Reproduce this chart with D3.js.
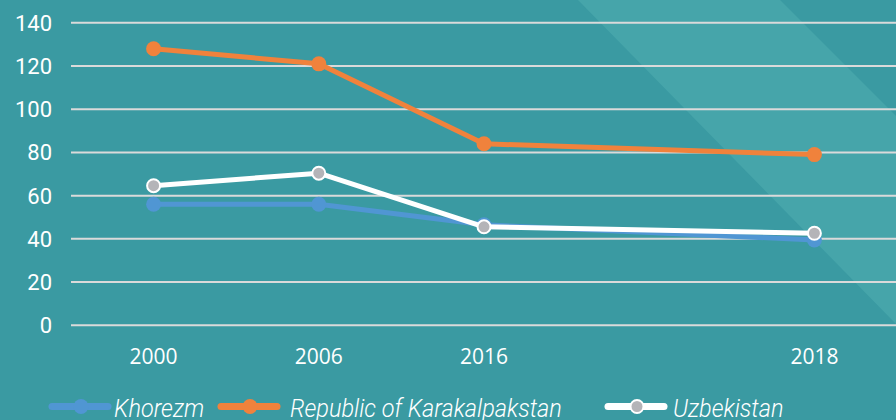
<!DOCTYPE html>
<html>
<head>
<meta charset="utf-8">
<script src="https://cdn.jsdelivr.net/npm/d3@7"></script>
<style>
    html, body { margin: 0; padding: 0; background: #3a9aa2; }
    svg { display: block; }
    .ytick { font-family: Roboto, sans-serif; font-size: 22px; fill: #ffffff; }
    .xtick { font-family: "Open Sans", sans-serif; font-size: 21px; fill: #ffffff; }
    .legend text { font-family: Roboto, sans-serif; font-weight: 300; font-style: italic; font-size: 25px; fill: #ffffff; }
</style>
</head>
<body>
<div id="chart"></div>
<script>
var WIDTH = 896;
var HEIGHT = 420;

// one empty slot between 2016 and 2018, as in the original
var years = ['2000', '2006', '2016', '', '2018'];
var yTicks = [0, 20, 40, 60, 80, 100, 120, 140];

var khorezm = [56, 56, 46.5, null, 39.5];
var karakalpakstan = [128, 121, 84, null, 79];
var uzbekistan = [64.6, 70.4, 45.6, null, 42.6];

var series = [
    {name: 'Khorezm', values: khorezm, color: '#5096d3', dot: '#5096d3', ring: null},
    {name: 'Republic of Karakalpakstan', values: karakalpakstan, color: '#f0823c', dot: '#f0823c', ring: null},
    {name: 'Uzbekistan', values: uzbekistan, color: '#ffffff', dot: '#b4b4b8', ring: '#ffffff'},
];

var svg = d3.select('#chart').append('svg')
    .attr('width', WIDTH)
    .attr('height', HEIGHT);

svg.append('rect')
    .attr('width', WIDTH)
    .attr('height', HEIGHT)
    .attr('fill', '#3a9aa2');

// lighter diagonal band of the background
svg.append('polygon')
    .attr('points', '578,0 780,0 896,116 896,324')
    .attr('fill', '#46a5aa');

var x = d3.scaleBand().domain(years).range([71, 897]);
var y = d3.scaleLinear().domain([0, 140]).range([325.3, 22.8]);

svg.append('g')
    .selectAll('line')
    .data(yTicks)
    .enter()
    .append('line')
    .attr('x1', 71)
    .attr('x2', WIDTH)
    .attr('y1', d => y(d))
    .attr('y2', d => y(d))
    .attr('stroke', '#dadada')
    .attr('stroke-width', 2);

svg.append('g')
    .selectAll('text')
    .data(yTicks)
    .enter()
    .append('text')
    .attr('class', 'ytick')
    .attr('x', 52)
    .attr('y', d => y(d) + 8)
    .attr('text-anchor', 'end')
    .text(d => d);

svg.append('g')
    .selectAll('text')
    .data(years.filter(d => d !== ''))
    .enter()
    .append('text')
    .attr('class', 'xtick')
    .attr('x', d => x(d) + x.bandwidth() / 2)
    .attr('y', 364)
    .attr('text-anchor', 'middle')
    .text(d => d);

var line = d3.line()
    .x(d => x(d.year) + x.bandwidth() / 2)
    .y(d => y(d.value));

series.forEach(s => {
    var pts = years
        .map((year, i) => ({year: year, value: s.values[i]}))
        .filter(d => d.value !== null);
    var g = svg.append('g');
    g.append('path')
        .datum(pts)
        .attr('d', line)
        .attr('fill', 'none')
        .attr('stroke', s.color)
        .attr('stroke-width', 5)
        .attr('stroke-linejoin', 'round');
    g.selectAll('circle')
        .data(pts)
        .enter()
        .append('circle')
        .attr('cx', d => x(d.year) + x.bandwidth() / 2)
        .attr('cy', d => y(d.value))
        .attr('r', s.ring ? 6.5 : 7.5)
        .attr('fill', s.dot)
        .attr('stroke', s.ring || 'none')
        .attr('stroke-width', s.ring ? 2 : 0);
});

var legendX = [52, 221, 608];
var legendTextX = [62, 69, 65];
var legend = svg.append('g').attr('class', 'legend')
    .selectAll('g')
    .data(series)
    .enter()
    .append('g')
    .attr('transform', (d, i) => `translate(${legendX[i]}, 406.5)`);

legend.append('line')
    .attr('x1', 0)
    .attr('x2', 56)
    .attr('stroke', d => d.color)
    .attr('stroke-width', 7)
    .attr('stroke-linecap', 'round');

legend.append('circle')
    .attr('cx', 29)
    .attr('r', d => d.ring ? 6.5 : 7.5)
    .attr('fill', d => d.dot)
    .attr('stroke', d => d.ring || 'none')
    .attr('stroke-width', d => d.ring ? 2 : 0);

// the original face is a condensed one, so squeeze a little
legend.append('text')
    .attr('transform', (d, i) => `translate(${legendTextX[i]}, 10.5) scale(0.94, 1)`)
    .text(d => d.name);
</script>
</body>
</html>
